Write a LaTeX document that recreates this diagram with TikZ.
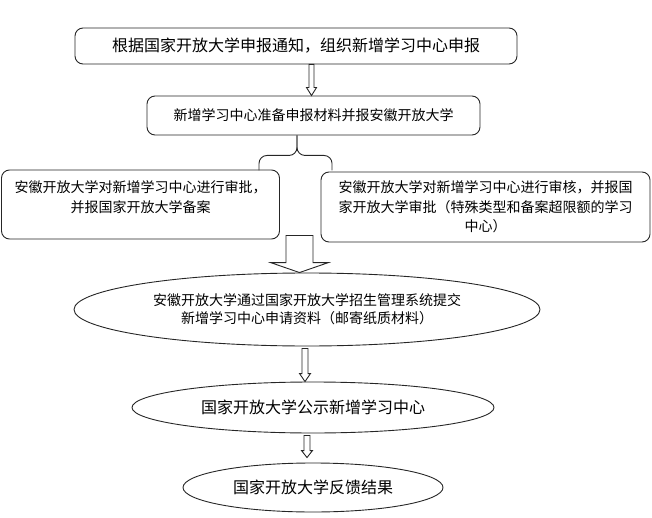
\documentclass[tikz,border=0pt]{standalone}
\usepackage{fontspec}
\setmainfont{Noto Sans CJK SC}
\usepackage{tikz}
\usetikzlibrary{calc, positioning, shapes.geometric}

% 空心箭头: 起点, 终点, 杆半宽, 头半宽, 头长
\newcommand{\hollowarrow}[5]{%
  \draw [line] ($(#1)+(-#3,0)$) -- ($(#2)+(-#3,#5)$) -- ($(#2)+(-#4,#5)$) -- (#2)
    -- ($(#2)+(#4,#5)$) -- ($(#2)+(#3,#5)$) -- ($(#1)+(#3,0)$) -- cycle;}

\begin{document}
\begin{tikzpicture}[x=1pt, y=1pt, line width=0.9pt]
        % 样式定义
        \tikzstyle{line} = [draw=black!85]
        \tikzstyle{block} = [draw=black!85, rectangle, rounded corners=8pt, inner sep=0pt, align=center, font=\fontsize{14pt}{19.5pt}\selectfont]
        \tikzstyle{oval} = [draw=black!85, ellipse, inner sep=0pt, align=center, font=\fontsize{14pt}{18pt}\selectfont]
        \tikzstyle{big} = [font=\fontsize{16pt}{20pt}\selectfont]
        \tikzstyle{toptext} = [anchor=north, inner sep=0pt, align=center, font=\fontsize{14pt}{19.5pt}\selectfont]

        \useasboundingbox (0,0) rectangle (652,-518);

        % 节点定义
        \node at (296,-46) [block, big, minimum width=442pt, minimum height=36pt] (notice) {根据国家开放大学申报通知，组织新增学习中心申报};
        \node [block, on grid, below right=69.5pt and 17.5pt of notice, minimum width=333pt, minimum height=39pt] (prepare) {新增学习中心准备申报材料并报安徽开放大学};
        \node [block, on grid, below left=89pt and 173pt of prepare, minimum width=278pt, minimum height=69pt,
               label={[toptext, name=approveText, yshift=-11pt]north:安徽开放大学对新增学习中心进行审批，\\并报国家开放大学备案}] (approve) {};
        \node [block, on grid, below right=91.5pt and 172pt of prepare, minimum width=329pt, minimum height=70pt] (review) {安徽开放大学对新增学习中心进行审核，并报国\\家开放大学审批（特殊类型和备案超限额的学习\\中心）};
        \node [oval, on grid, below left=194pt and 6.5pt of prepare, minimum width=466pt, minimum height=73pt] (submit) {安徽开放大学通过国家开放大学招生管理系统提交\\新增学习中心申请资料（邮寄纸质材料）};
        \node [oval, big, on grid, below right=98pt and 6pt of submit, minimum width=362pt, minimum height=51pt] (publish) {国家开放大学公示新增学习中心};
        \node [oval, big, on grid, below=80pt of publish, minimum width=260pt, minimum height=49pt] (result) {国家开放大学反馈结果};

        % 连接点
        \coordinate (arrowTop1) at ([xshift=15.5pt]notice.south);
        \coordinate (arrowTip1) at (arrowTop1 |- prepare.north);
        \coordinate (braceTip) at ([xshift=-16.5pt]prepare.south);
        \coordinate (braceLeft) at ([xshift=-38pt, yshift=-35pt]braceTip);
        \coordinate (braceRight) at ([xshift=35pt, yshift=-35pt]braceTip);
        \coordinate (arrowTip2) at ([xshift=-7.5pt]submit.north);
        \coordinate (arrowTop2) at ([yshift=37pt]arrowTip2);
        \coordinate (arrowTop3) at ([xshift=-2pt, yshift=-2pt]submit.south);
        \coordinate (arrowTip3) at (arrowTop3 |- publish.north);
        \coordinate (arrowTop4) at ([xshift=-6pt, yshift=-2pt]publish.south);
        \coordinate (arrowTip4) at ([xshift=-6pt, yshift=5pt]result.north);

        % 连接
        \hollowarrow{arrowTop1}{arrowTip1}{2.5}{5}{8}
        \draw [line, rounded corners=8pt] (braceLeft) -- ++(0,15) -| (braceTip);
        \draw [line, rounded corners=8pt] (braceRight) -- ++(0,15) -| (braceTip);
        \hollowarrow{arrowTop2}{arrowTip2}{13.5}{29}{10}
        \hollowarrow{arrowTop3}{arrowTip3}{3}{5.5}{8}
        \hollowarrow{arrowTop4}{arrowTip4}{3}{5.5}{7}
      \end{tikzpicture}
\end{document}
